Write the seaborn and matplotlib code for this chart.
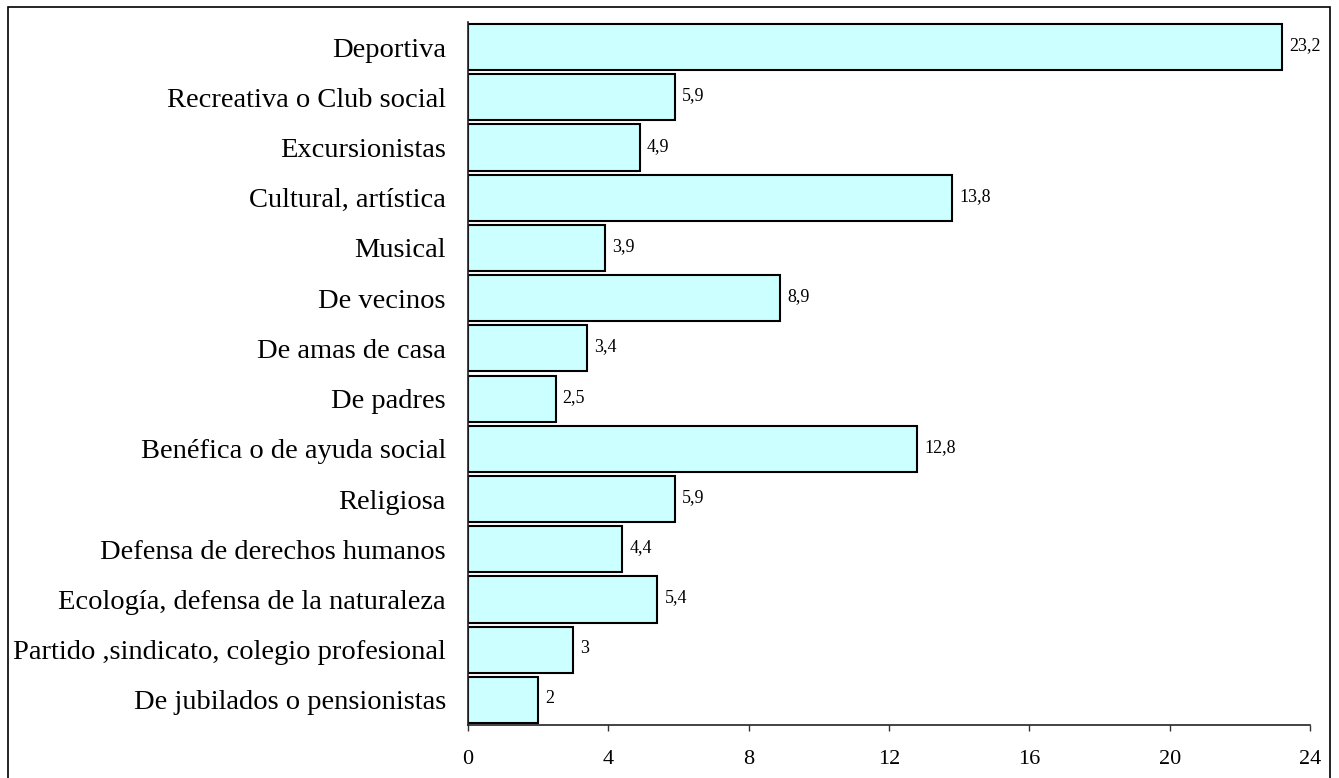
import matplotlib
matplotlib.use("Agg")
import matplotlib.pyplot as plt
import seaborn as sns
import pandas as pd
from matplotlib.patches import Rectangle

categorias = [
    "Deportiva",
    "Recreativa o Club social",
    "Excursionistas",
    "Cultural, artística",
    "Musical",
    "De vecinos",
    "De amas de casa",
    "De padres",
    "Benéfica o de ayuda social",
    "Religiosa",
    "Defensa de derechos humanos",
    "Ecología, defensa de la naturaleza",
    "Partido ,sindicato, colegio profesional",
    "De jubilados o pensionistas",
]
porcentajes = [23.2, 5.9, 4.9, 13.8, 3.9, 8.9, 3.4, 2.5, 12.8, 5.9, 4.4, 5.4, 3.0, 2.0]
etiquetas = ["23,2", "5,9", "4,9", "13,8", "3,9", "8,9", "3,4", "2,5", "12,8", "5,9",
             "4,4", "5,4", "3", "2"]
ticks_x = [0, 4, 8, 12, 16, 20, 24]

df = pd.DataFrame({"categoria": categorias, "valor": porcentajes})

sns.set_theme(style="white")
plt.rcParams["font.family"] = ["Liberation Serif", "DejaVu Serif"]

fig = plt.figure(figsize=(13.39, 7.78), dpi=100)
ax = fig.add_axes([468 / 1339, 1 - 725 / 778, (1310 - 468) / 1339, (725 - 22) / 778])

sns.barplot(data=df, x="valor", y="categoria", order=categorias, orient="h",
            color="#CCFFFF", saturation=1, edgecolor="black", linewidth=1.5,
            width=0.92, ax=ax)

for i, (v, t) in enumerate(zip(porcentajes, etiquetas)):
    ax.annotate(t, xy=(v, i), xytext=(5, 1), textcoords="offset points",
                ha="left", va="center", fontsize=13, color="black")

ax.set_xlim(0, 24)
ax.set_ylim(len(categorias) - 0.5, -0.5)
ax.set_xticks(ticks_x)
ax.set_xticklabels([str(t) for t in ticks_x], fontsize=16)
ax.tick_params(axis="x", direction="out", length=4, width=1, color="#333333",
               bottom=True, pad=14)
ax.tick_params(axis="y", length=0, pad=16, labelsize=20.5)
ax.set_xlabel("")
ax.set_ylabel("")
for s in ["top", "right"]:
    ax.spines[s].set_visible(False)
for s in ["left", "bottom"]:
    ax.spines[s].set_color("#222222")
    ax.spines[s].set_linewidth(1.2)
for lbl in ax.get_yticklabels():
    lbl.set_color("black")
for lbl in ax.get_xticklabels():
    lbl.set_color("black")

# outer frame around the chart area
fig.patches.append(Rectangle((8 / 1339, -0.05), (1330 - 8) / 1339, 1.05 - 7 / 778,
                             transform=fig.transFigure, fill=False,
                             edgecolor="black", linewidth=1.2))

fig.savefig("out.png", dpi=100)
